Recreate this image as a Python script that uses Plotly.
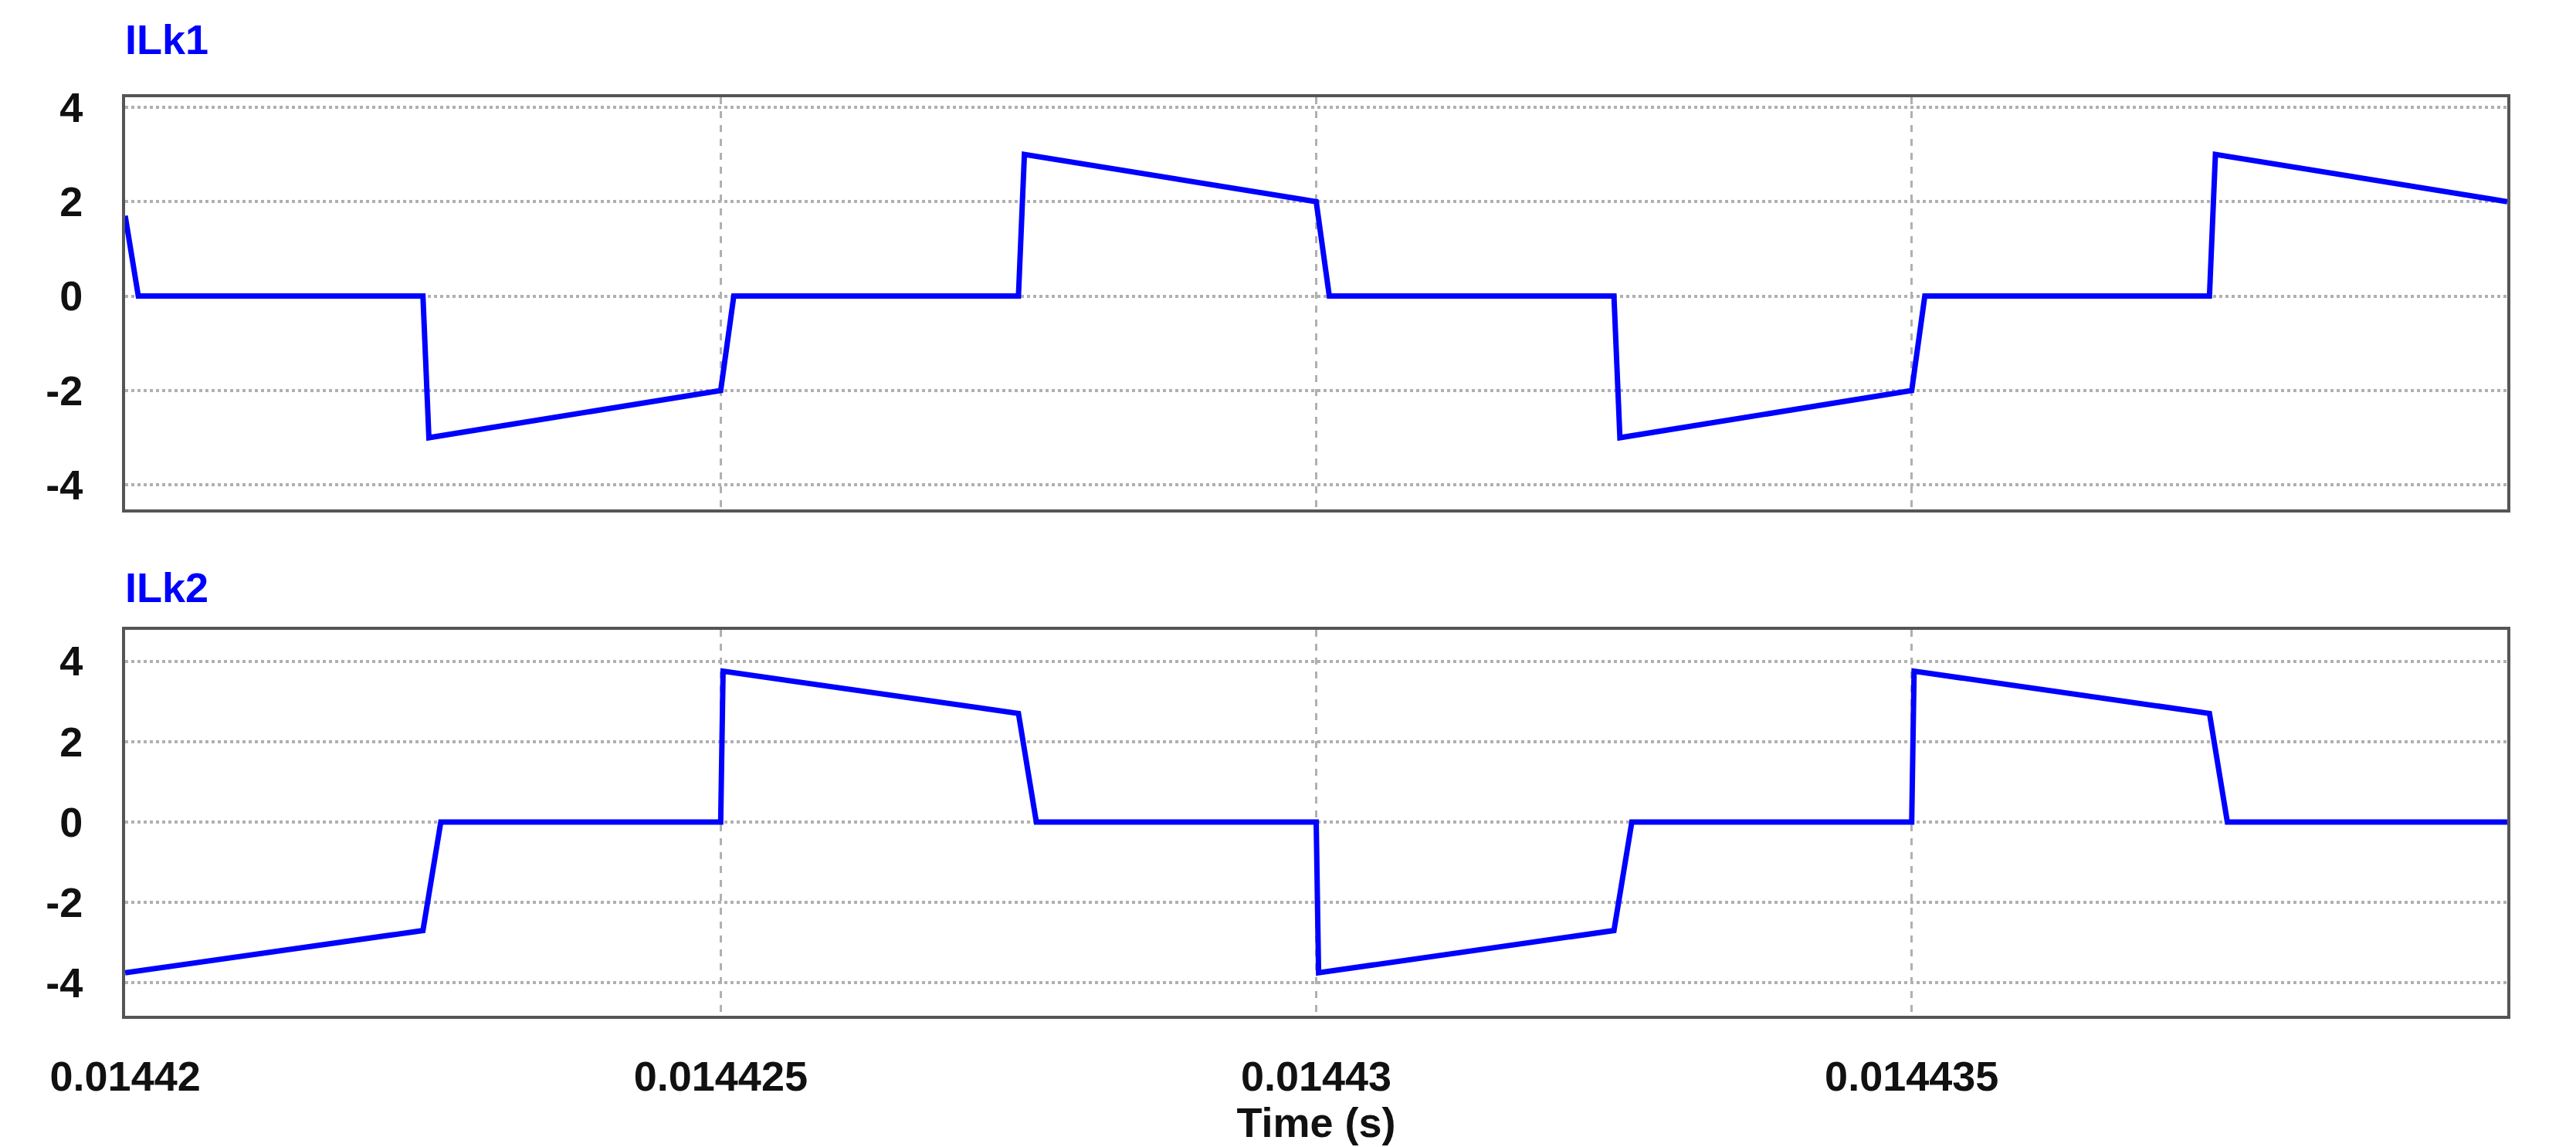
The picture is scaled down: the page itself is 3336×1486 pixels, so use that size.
import plotly.graph_objects as go

t0 = 0.01442
# time offsets in microseconds
t1_us = [0, 0.11, 2.5, 2.55, 5.0, 5.11, 7.5, 7.55, 10.0, 10.11, 12.5, 12.55, 15.0, 15.11, 17.5, 17.55, 20.0]
ilk1 = [1.7, 0, 0, -3.0, -2.0, 0, 0, 3.0, 2.0, 0, 0, -3.0, -2.0, 0, 0, 3.0, 2.0]
t2_us = [0, 2.5, 2.65, 5.0, 5.02, 7.5, 7.65, 10.0, 10.02, 12.5, 12.65, 15.0, 15.02, 17.5, 17.65, 20.0]
ilk2 = [-3.75, -2.7, 0, 0, 3.75, 2.7, 0, 0, -3.75, -2.7, 0, 0, 3.75, 2.7, 0, 0]
xtick_vals = [0.01442, 0.014425, 0.01443, 0.014435, 0.01444]
xtick_text = ["0.01442", "0.014425", "0.01443", "0.014435", "0.01444"]
ytick_vals = [-4, -2, 0, 2, 4]
ytick_text = ["-4", "-2", "0", "2", "4"]

x1 = [t0 + v * 1e-6 for v in t1_us]
x2 = [t0 + v * 1e-6 for v in t2_us]

fig = go.Figure()
fig.add_trace(go.Scatter(x=x1, y=ilk1, mode="lines", line=dict(color="#0000ff", width=7), xaxis="x", yaxis="y"))
fig.add_trace(go.Scatter(x=x2, y=ilk2, mode="lines", line=dict(color="#0000ff", width=7), xaxis="x2", yaxis="y2"))

font = dict(family="Liberation Sans", size=54, color="#111111", weight="bold")
common_x = dict(range=[0.01442, 0.01444], tickvals=xtick_vals, ticktext=xtick_text,
                showgrid=True, gridcolor="#b0b0b0", griddash="dash", gridwidth=3,
                showline=True, linecolor="#555555", linewidth=4, mirror=True, automargin=False,
                zeroline=False, ticks="", tickfont=font)
common_y = dict(tickvals=ytick_vals, ticktext=ytick_text, showgrid=True, gridcolor="#b0b0b0",
                griddash="dot", gridwidth=4, automargin=False,
                showline=True, linecolor="#555555", linewidth=4, mirror=True,
                zeroline=False, ticks="", tickfont=font, ticklabelstandoff=40)

fig.update_layout(
    width=3336, height=1486, margin=dict(l=0, r=0, t=0, b=0),
    plot_bgcolor="white", paper_bgcolor="white", showlegend=False,
    xaxis=dict(domain=[0.0462, 0.9709], anchor="y", showticklabels=False, **common_x),
    yaxis=dict(domain=[0.5612, 0.9206], range=[-4.52, 4.21], anchor="x", **common_y),
    xaxis2=dict(domain=[0.0462, 0.9709], anchor="y2", ticklabelstandoff=28,
                title=dict(text="Time (s)", font=font, standoff=8), **common_x),
    yaxis2=dict(domain=[0.1198, 0.4563], range=[-4.82, 4.78], anchor="x2", **common_y),
)

for txt, y in [("ILk1", 1 - 43 / 1486), ("ILk2", 1 - 753 / 1486)]:
    fig.add_annotation(text=txt, x=0.0455, y=y, xref="paper", yref="paper",
                       xanchor="left", yanchor="middle", showarrow=False,
                       font=dict(family="Liberation Sans", size=54, color="#0000ff", weight="bold"))

fig.write_html("out.html")
